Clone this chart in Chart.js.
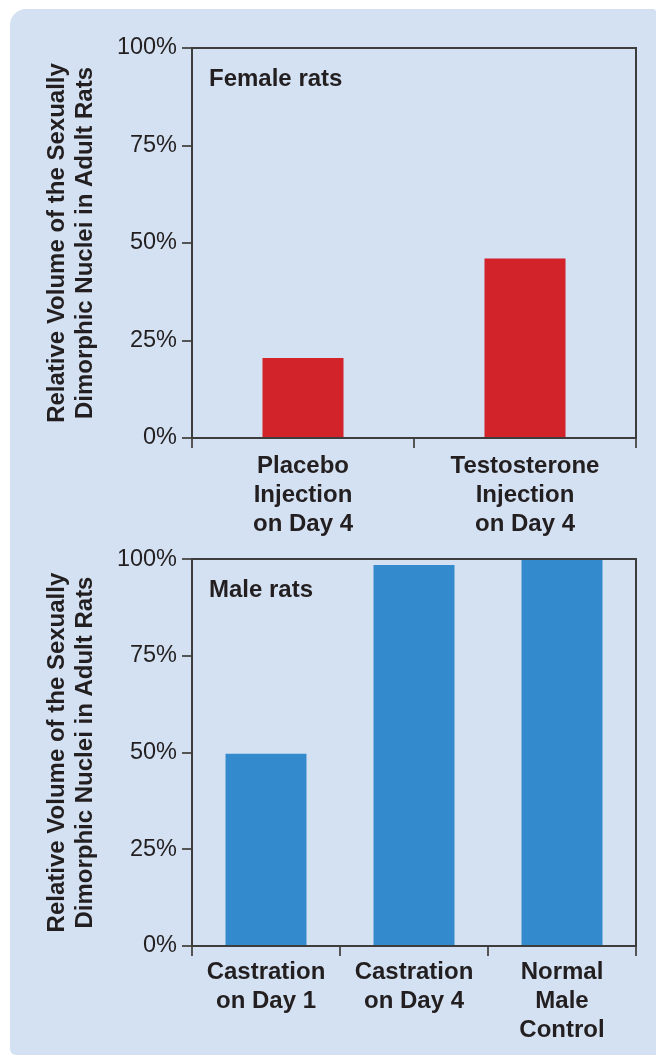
<!DOCTYPE html>
<html>
<head>
<meta charset="utf-8">
<script src="https://cdn.jsdelivr.net/npm/chart.js@4.4.1/dist/chart.umd.min.js"></script>
<style>
  html, body { margin: 0; padding: 0; background: #ffffff; }
  body { width: 656px; height: 1056px; position: relative; overflow: hidden; }
  #panel { position: absolute; left: 10px; top: 9px; width: 646px; height: 1046px;
           background: #d4e1f2; border-radius: 16px 3px 0 6px; }
  canvas { position: absolute; left: 0; }
  #c1 { top: 0; }
  #c2 { top: 540px; }
</style>
</head>
<body>
<div id="panel"></div>
<canvas id="c1" width="656" height="540"></canvas>
<canvas id="c2" width="656" height="516"></canvas>
<script>
// ---- data ----
const femaleCategories = [["Placebo", "Injection", "on Day 4"], ["Testosterone", "Injection", "on Day 4"]];
const femaleValues = [20.5, 46];
const maleCategories = [["Castration", "on Day 1"], ["Castration", "on Day 4"], ["Normal", "Male", "Control"]];
const maleValues = [49.7, 98.5, 100];
const yTickValues = [0, 25, 50, 75, 100];
const yTitleLines = ["Relative Volume of the Sexually", "Dimorphic Nuclei in Adult Rats"];
const femaleNote = "Female rats";
const maleNote = "Male rats";

// ---- styles ----
const FONT = "'Liberation Sans', Arial, Helvetica, sans-serif";
const TEXT = "#231f20";
const AXIS = "#3d3d3d";
const TICK = "#555555";

const framePlugin = {
  id: "frame",
  afterDraw(chart, args, opts) {
    const { ctx, chartArea: a } = chart;
    ctx.save();
    ctx.strokeStyle = AXIS;
    ctx.lineWidth = 2;
    ctx.beginPath();
    ctx.moveTo(a.left, a.top);
    ctx.lineTo(a.right, a.top);
    ctx.lineTo(a.right, a.bottom);
    ctx.stroke();
    ctx.fillStyle = TEXT;
    ctx.font = "bold 24px " + FONT;
    ctx.textBaseline = "middle";
    ctx.textAlign = "left";
    ctx.fillText(opts.text, a.left + 17, a.top + 31);
    ctx.restore();
  }
};

function makeChart(id, labels, values, color, barPct, padTop, xHeight, xPad, note) {
  return new Chart(document.getElementById(id), {
    type: "bar",
    data: {
      labels: labels,
      datasets: [{ data: values, backgroundColor: color, borderWidth: 0,
                   categoryPercentage: 1, barPercentage: barPct }]
    },
    options: {
      responsive: false,
      animation: false,
      devicePixelRatio: 1,
      layout: { padding: { top: padTop, right: 20, bottom: 0, left: 0 } },
      plugins: { legend: { display: false }, tooltip: { enabled: false }, frame: { text: note } },
      scales: {
        x: {
          grid: { display: true, drawOnChartArea: false, drawTicks: true, tickLength: 10,
                  color: TICK, lineWidth: 2, offset: true },
          border: { display: true, color: AXIS, width: 2 },
          ticks: { color: TEXT, padding: xPad, maxRotation: 0, autoSkip: false,
                   font: { family: FONT, size: 24, weight: "bold", lineHeight: "29px" } },
          afterFit(scale) { scale.height = xHeight; }
        },
        y: {
          min: 0, max: 100,
          afterBuildTicks(scale) { scale.ticks = yTickValues.map(v => ({ value: v })); },
          grid: { display: true, drawOnChartArea: false, drawTicks: true, tickLength: 10,
                  color: TICK, lineWidth: 2 },
          border: { display: true, color: AXIS, width: 2 },
          ticks: { color: TEXT, padding: 5, callback: v => v + "%",
                   font: { family: FONT, size: 23.5, weight: "normal" } },
          title: { display: true, text: yTitleLines, color: TEXT,
                   padding: { top: 43, bottom: 0 },
                   font: { family: FONT, size: 24, weight: "bold", lineHeight: "28px" } },
          afterFit(scale) { scale.width = 192; }
        }
      }
    },
    plugins: [framePlugin]
  });
}

makeChart("c1", femaleCategories, femaleValues, "#d2232a", 0.365, 48, 102, 4, femaleNote);
makeChart("c2", maleCategories, maleValues, "#338acd", 0.547, 16, 110, 2, maleNote);
</script>
</body>
</html>
